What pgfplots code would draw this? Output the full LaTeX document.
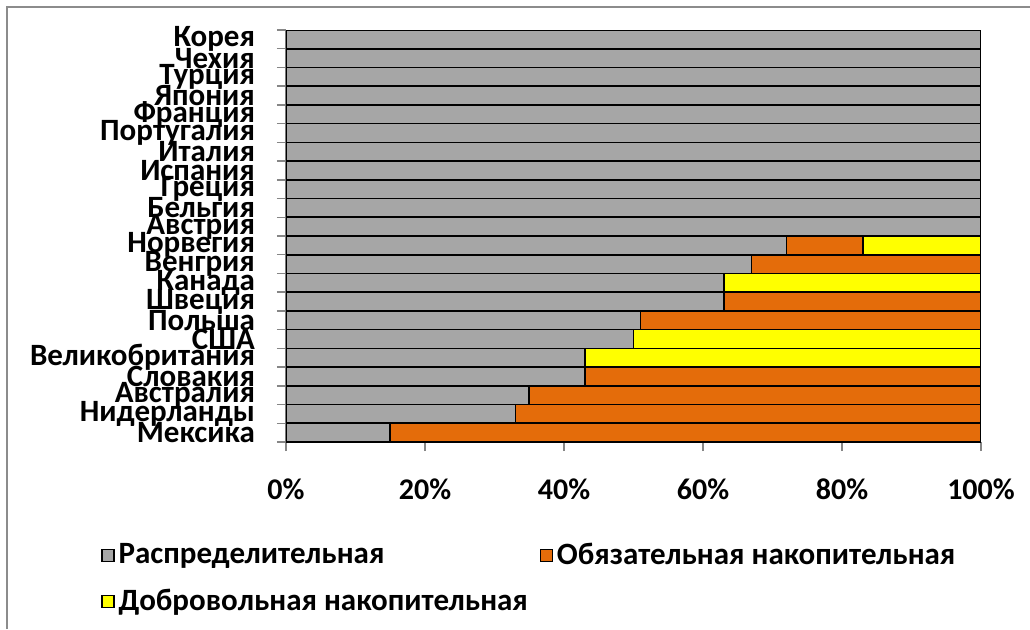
\documentclass[border=0pt]{standalone}
\usepackage{fontspec}
\setmainfont{Carlito}
\usepackage{pgfplots}
\pgfplotsset{compat=1.18}
\definecolor{cgray}{HTML}{A6A6A6}
\definecolor{corange}{HTML}{E46C0A}
\definecolor{cyellow}{HTML}{FFFF00}
\definecolor{axgray}{HTML}{868686}
\definecolor{framegray}{HTML}{8C8C8C}
\begin{document}
\begin{tikzpicture}
\useasboundingbox (0,0) rectangle (515pt,314.5pt);
\draw[color=framegray, line width=1pt] (3.5pt,0) -- (3.5pt,311pt) -- (515pt,311pt);
\begin{axis}[
  at={(143pt,93.5pt)}, anchor=south west, scale only axis,
  width=347.5pt, height=206pt,
  xbar stacked, bar width=1,
  xmin=0, xmax=100, ymin=-0.5, ymax=21.5,
  axis x line*=bottom, axis y line*=left,
  axis line style={draw=axgray, line width=0.75pt},
  tick align=outside, major tick length=4.5pt,
  tick style={axgray, line width=0.75pt},
  xtick={0,20,40,60,80,100},
  xticklabels={0\%,20\%,40\%,60\%,80\%,100\%},
  xticklabel style={font=\fontsize{15}{17}\selectfont\bfseries, yshift=-10.5pt},
  ytick={-0.5,0.5,1.5,2.5,3.5,4.5,5.5,6.5,7.5,8.5,9.5,10.5,11.5,12.5,13.5,14.5,15.5,16.5,17.5,18.5,19.5,20.5,21.5},
  y tick label as interval,
  yticklabels={Мексика,Нидерланды,Австралия,Словакия,Великобритания,США,Польша,Швеция,Канада,Венгрия,Норвегия,Австрия,Бельгия,Греция,Испания,Италия,Португалия,Франция,Япония,Турция,Чехия,Корея},
  yticklabel style={font=\fontsize{15.5}{16}\selectfont\bfseries, anchor=east, xshift=-7.5pt, inner ysep=0pt},
  legend columns=2,
  legend style={at={(-0.2662,-0.235)}, anchor=north west, draw=none, fill=none,
    inner sep=0pt, font=\fontsize{15.5}{17}\selectfont\bfseries,
    /tikz/every even column/.append style={column sep=4pt},
    row sep=7pt},
  legend cell align=left,
  legend image code/.code={\draw[#1,line width=0.6pt] (-2.5pt,-3pt) rectangle (3.5pt,3pt);},
  every axis plot/.append style={draw=black, line width=0.8pt},
]
\addplot[fill=cgray] coordinates {(15,0) (33,1) (35,2) (43,3) (43,4) (50,5) (51,6) (63,7) (63,8) (67,9) (72,10) (100,11) (100,12) (100,13) (100,14) (100,15) (100,16) (100,17) (100,18) (100,19) (100,20) (100,21)};
\addplot[fill=corange] coordinates {(85,0) (67,1) (65,2) (57,3) (0,4) (0,5) (49,6) (37,7) (0,8) (33,9) (11,10) (0,11) (0,12) (0,13) (0,14) (0,15) (0,16) (0,17) (0,18) (0,19) (0,20) (0,21)};
\addplot[fill=cyellow] coordinates {(0,0) (0,1) (0,2) (0,3) (57,4) (50,5) (0,6) (0,7) (37,8) (0,9) (17,10) (0,11) (0,12) (0,13) (0,14) (0,15) (0,16) (0,17) (0,18) (0,19) (0,20) (0,21)};
\legend{Распределительная,Обязательная накопительная,Добровольная накопительная}
\end{axis}
\end{tikzpicture}
\end{document}
